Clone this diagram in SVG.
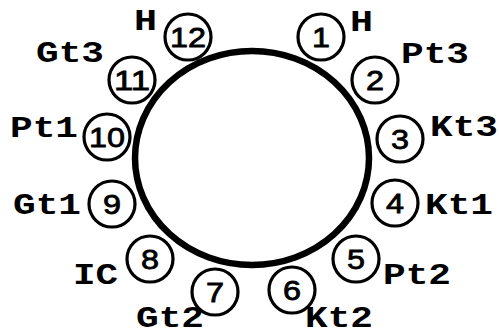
<svg xmlns="http://www.w3.org/2000/svg" width="499" height="336" viewBox="0 0 499 336">
<style>
.ring{fill:none;stroke:#000;stroke-width:6.5}
.n circle{fill:#fff;stroke:#000;stroke-width:3.2}
.n text.d{font-family:"Liberation Sans",Arial,sans-serif;font-size:28px;text-anchor:middle;fill:#000;stroke:#000;stroke-width:0.8}
.n text.l{font-family:"Liberation Mono","Courier New",monospace;font-weight:bold;font-size:29px;fill:#000}
</style>
<rect width="499" height="336" fill="#fff"/>
<g id="connectors">
<ellipse class="ring" cx="252" cy="158" rx="117" ry="107"/>
</g>
<g id="n1" class="n"><circle cx="321" cy="37" r="23"/><text class="d" x="321" y="47" textLength="18" lengthAdjust="spacingAndGlyphs">1</text><text class="l" x="350" y="31" textLength="23" lengthAdjust="spacingAndGlyphs">H</text></g>
<g id="n2" class="n"><circle cx="375" cy="80" r="23"/><text class="d" x="375" y="90" textLength="18" lengthAdjust="spacingAndGlyphs">2</text><text class="l" x="401" y="63" textLength="68" lengthAdjust="spacingAndGlyphs">Pt3</text></g>
<g id="n3" class="n"><circle cx="400" cy="139" r="23"/><text class="d" x="400" y="149" textLength="18" lengthAdjust="spacingAndGlyphs">3</text><text class="l" x="430" y="136" textLength="68" lengthAdjust="spacingAndGlyphs">Kt3</text></g>
<g id="n4" class="n"><circle cx="395" cy="203" r="23"/><text class="d" x="395" y="213" textLength="18" lengthAdjust="spacingAndGlyphs">4</text><text class="l" x="425" y="214" textLength="68" lengthAdjust="spacingAndGlyphs">Kt1</text></g>
<g id="n5" class="n"><circle cx="356" cy="259" r="23"/><text class="d" x="356" y="269" textLength="18" lengthAdjust="spacingAndGlyphs">5</text><text class="l" x="383" y="284" textLength="68" lengthAdjust="spacingAndGlyphs">Pt2</text></g>
<g id="n6" class="n"><circle cx="292" cy="290" r="23"/><text class="d" x="292" y="300" textLength="18" lengthAdjust="spacingAndGlyphs">6</text><text class="l" x="305" y="327" textLength="68" lengthAdjust="spacingAndGlyphs">Kt2</text></g>
<g id="n7" class="n"><circle cx="215" cy="292" r="23"/><text class="d" x="215" y="302" textLength="18" lengthAdjust="spacingAndGlyphs">7</text><text class="l" x="136" y="327" textLength="68" lengthAdjust="spacingAndGlyphs">Gt2</text></g>
<g id="n8" class="n"><circle cx="150" cy="259" r="23"/><text class="d" x="150" y="269" textLength="18" lengthAdjust="spacingAndGlyphs">8</text><text class="l" x="73" y="284" textLength="45" lengthAdjust="spacingAndGlyphs">IC</text></g>
<g id="n9" class="n"><circle cx="112" cy="204" r="23"/><text class="d" x="112" y="214" textLength="18" lengthAdjust="spacingAndGlyphs">9</text><text class="l" x="13" y="214" textLength="68" lengthAdjust="spacingAndGlyphs">Gt1</text></g>
<g id="n10" class="n"><circle cx="107" cy="137" r="23"/><text class="d" x="107" y="147" textLength="36" lengthAdjust="spacingAndGlyphs">10</text><text class="l" x="10" y="137" textLength="68" lengthAdjust="spacingAndGlyphs">Pt1</text></g>
<g id="n11" class="n"><circle cx="132" cy="80" r="23"/><text class="d" x="132" y="90" textLength="36" lengthAdjust="spacingAndGlyphs">11</text><text class="l" x="36" y="62" textLength="68" lengthAdjust="spacingAndGlyphs">Gt3</text></g>
<g id="n12" class="n"><circle cx="188" cy="37" r="23"/><text class="d" x="188" y="47" textLength="36" lengthAdjust="spacingAndGlyphs">12</text><text class="l" x="134" y="30" textLength="23" lengthAdjust="spacingAndGlyphs">H</text></g>
</svg>
